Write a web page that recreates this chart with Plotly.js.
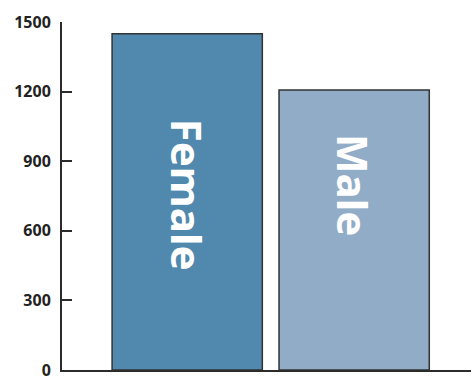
<!DOCTYPE html>
<html>
<head>
<meta charset="utf-8">
<script src="https://cdn.plot.ly/plotly-3.0.1.min.js"></script>
<style>html,body{margin:0;padding:0;background:#fff;}#chart{width:471px;height:381px;}</style>
</head>
<body>
<div id="chart"></div>
<script>
const categories = ["Female", "Male"];
const counts = [1449, 1207];
const barColors = ["#5088ae", "#91acc7"];
const yTicks = [0, 300, 600, 900, 1200, 1500];
const labelY = [755, 797];

const trace = {
  type: "bar",
  x: categories,
  y: counts,
  marker: { color: barColors, line: { color: "#333333", width: 1.5 } },
  hoverinfo: "none"
};

const annotations = categories.map((c, i) => ({
  x: c, y: labelY[i], xref: "x", yref: "y",
  text: c, showarrow: false, textangle: 90,
  font: { family: "Noto Sans", size: 42, color: "#ffffff", weight: "bold" }
}));

const layout = {
  width: 471, height: 381,
  margin: { l: 62, r: 0, t: 22, b: 11, pad: 0 },
  paper_bgcolor: "#ffffff", plot_bgcolor: "#ffffff",
  showlegend: false,
  bargap: 0.1,
  xaxis: {
    range: [-0.75, 1.7], showticklabels: false, ticks: "",
    showline: true, linecolor: "#2b2b2b", linewidth: 2,
    showgrid: false, zeroline: false, fixedrange: true
  },
  yaxis: {
    range: [0, 1500], tickvals: yTicks, ticktext: yTicks.map(String),
    ticks: "inside", ticklen: 10, tickwidth: 2, tickcolor: "#2b2b2b",
    showline: true, linecolor: "#2b2b2b", linewidth: 2,
    showgrid: false, zeroline: false, ticklabelstandoff: 6,
    tickfont: { family: "Noto Sans", size: 16, color: "#222222", weight: "bold" }
  },
  annotations: annotations
};

Plotly.newPlot("chart", [trace], layout, { staticPlot: true, displayModeBar: false });
</script>
</body>
</html>
